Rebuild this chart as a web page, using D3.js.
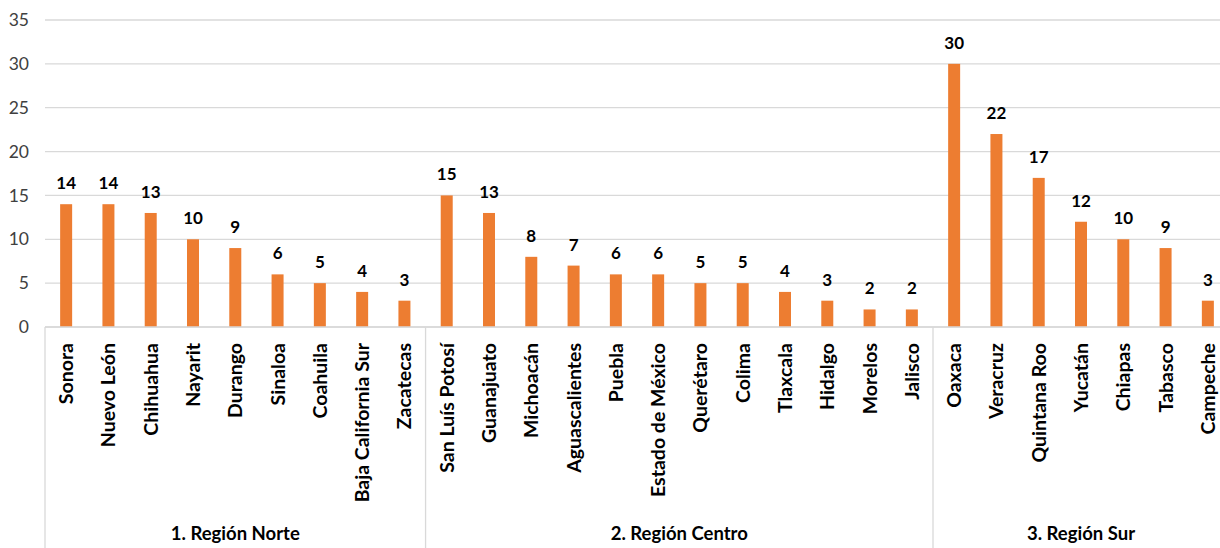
<!DOCTYPE html>
<html><head><meta charset="utf-8">
<script src="https://cdn.jsdelivr.net/npm/d3@7"></script>
<style>body{margin:0;background:#fff}svg{display:block}text{font-family:Lato,"Open Sans",sans-serif}</style>
</head><body><svg id="c" width="1220" height="548"></svg>
<script>
const categories = ["Sonora","Nuevo León","Chihuahua","Nayarit","Durango","Sinaloa","Coahuila","Baja California Sur","Zacatecas",
"San Luís Potosí","Guanajuato","Michoacán","Aguascalientes","Puebla","Estado de México","Querétaro","Colima","Tlaxcala","Hidalgo","Morelos","Jalisco",
"Oaxaca","Veracruz","Quintana Roo","Yucatán","Chiapas","Tabasco","Campeche"];
const values = [14,14,13,10,9,6,5,4,3, 15,13,8,7,6,6,5,5,4,3,2,2, 30,22,17,12,10,9,3];
const groups = ["1. Región Norte","2. Región Centro","3. Región Sur"];
const groupSizes = [9,12,7];
const yTicks = [0,5,10,15,20,25,30,35];

const svg = d3.select("#c");
const mLeft = 45, mRight = 1229, mTop = 20, mBottom = 327;
const x = d3.scaleBand().domain(d3.range(categories.length)).range([mLeft,mRight]).paddingInner(0).paddingOuter(0);
const y = d3.scaleLinear().domain([0,35]).range([mBottom,mTop]);

// gridlines
svg.append("g").selectAll("line").data(yTicks).join("line")
  .attr("x1",mLeft).attr("x2",1220).attr("y1",d=>y(d)).attr("y2",d=>y(d))
  .attr("stroke","#d9d9d9").attr("stroke-width",1.3);

// y axis labels
const yAxis = d3.axisLeft(y).tickValues(yTicks).tickSize(0).tickPadding(0);
const ya = svg.append("g").attr("transform",`translate(${mLeft-16},0)`).call(yAxis);
ya.select(".domain").remove();
ya.selectAll("text").attr("font-size",17.5).attr("fill","#404040").attr("font-family","Lato");

// bars
const bw = 12;
svg.append("g").selectAll("rect").data(values).join("rect")
  .attr("x",(d,i)=>x(i)+x.bandwidth()/2-bw/2).attr("width",bw)
  .attr("y",d=>y(d)).attr("height",d=>mBottom-y(d)).attr("fill","#ED7D31");

// value labels
svg.append("g").selectAll("text").data(values).join("text")
  .attr("x",(d,i)=>x(i)+x.bandwidth()/2).attr("y",d=>y(d)-15)
  .attr("text-anchor","middle").attr("font-size",17).attr("font-weight","bold").attr("fill","#000")
  .text(d=>d);

// category labels
svg.append("g").selectAll("text").data(categories).join("text")
  .attr("transform",(d,i)=>`translate(${x(i)+x.bandwidth()/2},343) rotate(-90)`)
  .attr("text-anchor","end").attr("dy","0.36em")
  .attr("font-size",19.5).attr("font-weight","bold").attr("fill","#000")
  .text(d=>d);

// baseline
svg.append("line").attr("x1",mLeft).attr("x2",1220).attr("y1",mBottom).attr("y2",mBottom)
  .attr("stroke","#d9d9d9").attr("stroke-width",1.3);

// group separators and labels
let acc = 0;
const bounds = [0];
groupSizes.forEach(s=>{acc+=s;bounds.push(acc);});
svg.append("g").selectAll("line").data(bounds.slice(0,3)).join("line")
  .attr("x1",d=>x(d)).attr("x2",d=>x(d)).attr("y1",mBottom).attr("y2",548)
  .attr("stroke","#d9d9d9").attr("stroke-width",1.3);
svg.append("g").selectAll("text").data(groups).join("text")
  .attr("x",(d,i)=>{const a=x(bounds[i]);const b=bounds[i+1]<categories.length?x(bounds[i+1]):mRight;return (a+b)/2;})
  .attr("y",540).attr("text-anchor","middle").attr("font-size",18.5).attr("font-weight","bold").attr("fill","#000")
  .text(d=>d);
</script></body></html>
